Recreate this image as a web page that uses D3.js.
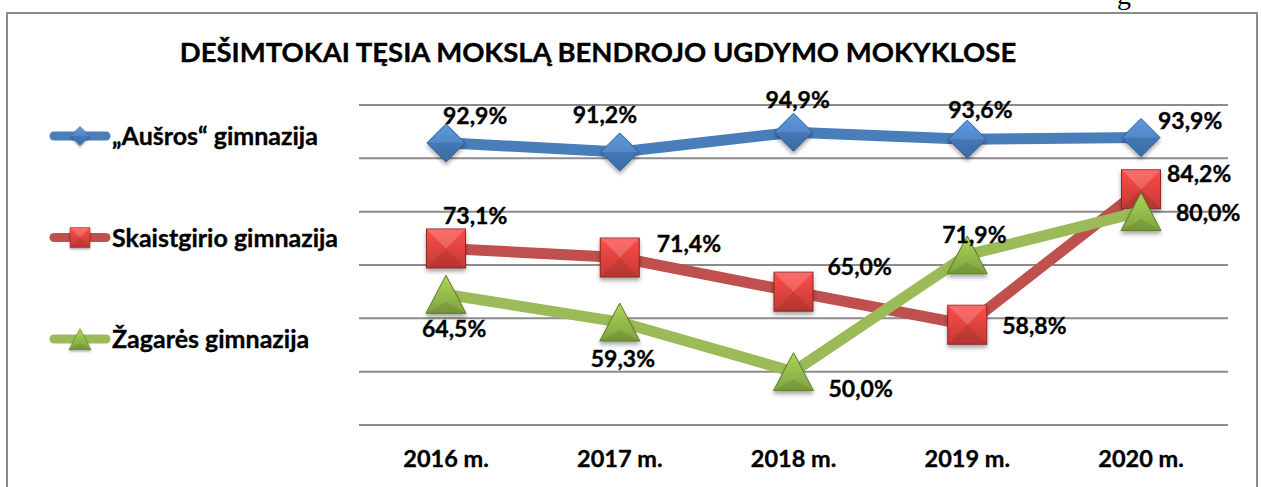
<!DOCTYPE html>
<html>
<head>
<meta charset="utf-8">
<script src="https://cdn.jsdelivr.net/npm/d3@7"></script>
<style>
  body { margin: 0; background: #fff; }
  text { font-family: Lato, "Open Sans", sans-serif; font-weight: bold; fill: #000; stroke: #000; stroke-width: 0.35px; }
</style>
</head>
<body>
<div id="chart"></div>
<script>
const years = ["2016 m.", "2017 m.", "2018 m.", "2019 m.", "2020 m."];
const ausros = [92.9, 91.2, 94.9, 93.6, 93.9];
const skaistgirio = [73.1, 71.4, 65.0, 58.8, 84.2];
const zagares = [64.5, 59.3, 50.0, 71.9, 80.0];
const yTicks = [40, 50, 60, 70, 80, 90, 100];

// where each value label sits relative to its marker (left edge, baseline)
const ausrosLabelOffsets = [[-3, -19], [-47, -29], [-28, -24], [-19, -21], [17, -9]];
const skaistgirioLabelOffsets = [[-3, -24], [37, -6], [34, -17], [35, 9], [26, -7]];
const zagaresLabelOffsets = [[-24, 43], [-29, 45], [35, 25], [-25, -12], [35, 9]];

const series = [
    {name: "„Aušros“ gimnazija", values: ausros, offsets: ausrosLabelOffsets,
     line: "#4a7ebb", fill: "#4f81bd", dark: "#2c5d98", shape: "diamond"},
    {name: "Skaistgirio gimnazija", values: skaistgirio, offsets: skaistgirioLabelOffsets,
     line: "#c0504d", fill: "#d9403c", dark: "#8c2624", shape: "square"},
    {name: "Žagarės gimnazija", values: zagares, offsets: zagaresLabelOffsets,
     line: "#9bbb59", fill: "#8fb448", dark: "#5c7a26", shape: "triangle"}
];

const W = 1261, H = 487;
const svg = d3.select("#chart").append("svg").attr("width", W).attr("height", H);

const defs = svg.append("defs");
series.forEach((s, i) => {
    const g = defs.append("linearGradient").attr("id", "grad" + i)
        .attr("x1", 0).attr("y1", 0).attr("x2", 0).attr("y2", 1);
    g.append("stop").attr("offset", "0%").attr("stop-color", d3.color(s.fill).brighter(0.5));
    g.append("stop").attr("offset", "100%").attr("stop-color", d3.color(s.fill).darker(0.3));
});
const blur = defs.append("filter").attr("id", "shadow").attr("x", "-30%").attr("y", "-30%").attr("width", "160%").attr("height", "170%");
blur.append("feDropShadow").attr("dx", 0).attr("dy", 3).attr("stdDeviation", 2).attr("flood-color", "#000").attr("flood-opacity", 0.35);

// stray glyph from the surrounding page
svg.append("text").attr("x", 1117).attr("y", 4).style("font-family", "'Liberation Serif', serif")
    .style("font-weight", "normal").style("stroke-width", 0).style("font-size", "28px").text("g");

// frame
svg.append("rect").attr("x", 7).attr("y", 13).attr("width", 1250).attr("height", 490)
    .attr("fill", "none").attr("stroke", "#8a8a8a").attr("stroke-width", 2);

svg.append("text").attr("x", 598).attr("y", 62).attr("text-anchor", "middle")
    .style("font-size", "27.5px").text("DEŠIMTOKAI TĘSIA MOKSLĄ BENDROJO UGDYMO MOKYKLOSE");

const x = d3.scalePoint().domain(years).range([446, 1141]);
const y = d3.scaleLinear().domain([40, 100]).range([425, 105]);

svg.append("g").selectAll("line").data(yTicks).join("line")
    .attr("x1", 359).attr("x2", 1228)
    .attr("y1", d => y(d)).attr("y2", d => y(d))
    .attr("stroke", "#8c8c8c").attr("stroke-width", 2);

svg.append("g").selectAll("text").data(years).join("text")
    .attr("x", d => x(d)).attr("y", 467).attr("text-anchor", "middle")
    .style("font-size", "23.5px").text(d => d);

function drawMarker(g, shape, cx, cy, i, s) {
    const m = g.append("g").attr("transform", `translate(${cx},${cy})`).attr("filter", "url(#shadow)");
    if (shape === "diamond") {
        const r = 19;
        m.append("path").attr("d", `M0,${-r}L${r},0L0,${r}L${-r},0Z`).attr("fill", `url(#grad${i})`)
            .attr("stroke", s.dark).attr("stroke-width", 1);
        m.append("path").attr("d", `M${-r},0L${r},0L0,${r}Z`).attr("fill", s.dark).attr("opacity", 0.35);
    } else if (shape === "square") {
        const r = 19.5;
        m.append("rect").attr("x", -r).attr("y", -r).attr("width", 2 * r).attr("height", 2 * r)
            .attr("fill", `url(#grad${i})`).attr("stroke", s.dark).attr("stroke-width", 1);
        m.append("path").attr("d", `M${-r},${-r}L0,0L${r},${-r}Z`).attr("fill", "#fff").attr("opacity", 0.18);
        m.append("path").attr("d", `M${-r},${r}L0,0L${r},${r}Z`).attr("fill", s.dark).attr("opacity", 0.25);
    } else {
        const r = 20, h = 19;
        m.append("path").attr("d", `M0,${-h}L${r},${h}L${-r},${h}Z`).attr("fill", `url(#grad${i})`)
            .attr("stroke", s.dark).attr("stroke-width", 1);
        m.append("path").attr("d", `M0,${h * 0.4}L${r},${h}L${-r},${h}Z`).attr("fill", s.dark).attr("opacity", 0.3);
    }
}

const line = d3.line().x((d, j) => x(years[j])).y(d => y(d));

series.forEach((s, i) => {
    const g = svg.append("g");
    g.append("path").datum(s.values).attr("d", line)
        .attr("fill", "none").attr("stroke", s.line).attr("stroke-width", 11).attr("stroke-linejoin", "round");
    s.values.forEach((v, j) => drawMarker(g, s.shape, x(years[j]), y(v), i, s));

    // legend
    const ly = 136 + i * 101.5;
    svg.append("line").attr("x1", 54).attr("x2", 106).attr("y1", ly).attr("y2", ly)
        .attr("stroke", s.line).attr("stroke-width", 9).attr("stroke-linecap", "round");
    const sm = {diamond: 0.5, square: 0.51, triangle: 0.55}[s.shape];
    const lg = svg.append("g").attr("transform", `translate(80,${ly}) scale(${sm})`);
    drawMarker(lg, s.shape, 0, 0, i, s);
    svg.append("text").attr("x", 112).attr("y", ly + 9).style("font-size", "25px").text(s.name);
});

// data labels
const labelLayer = svg.append("g");
series.forEach(s => {
    s.values.forEach((v, j) => {
        const [dx, dy] = s.offsets[j];
        labelLayer.append("text")
            .attr("x", x(years[j]) + dx).attr("y", y(v) + dy)
            .style("font-size", "23px")
            .text(v.toFixed(1).replace(".", ",") + "%");
    });
});
</script>
</body>
</html>
